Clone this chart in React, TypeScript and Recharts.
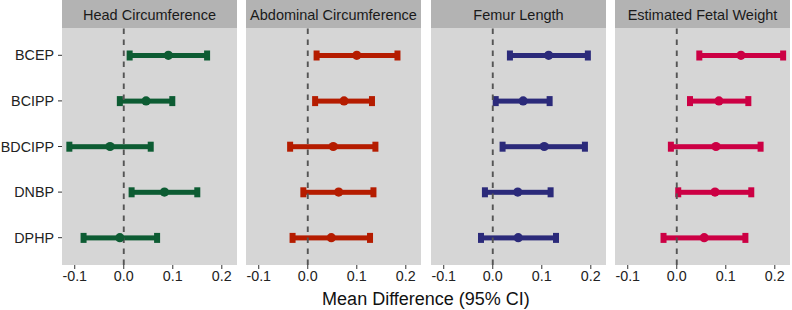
import {
  ComposedChart,
  XAxis,
  YAxis,
  CartesianGrid,
  Bar,
  Scatter,
  ReferenceLine,
} from "recharts";

const chemicals = ["BCEP", "BCIPP", "BDCIPP", "DNBP", "DPHP"];
const xTicks = [-0.1, 0, 0.1, 0.2];

const hcMean = [0.091, 0.0455, -0.028, 0.083, -0.008];
const hcLow = [0.012, -0.008, -0.111, 0.016, -0.082];
const hcHigh = [0.17, 0.099, 0.055, 0.15, 0.068];

const acMean = [0.1, 0.074, 0.052, 0.063, 0.048];
const acLow = [0.018, 0.015, -0.036, -0.009, -0.031];
const acHigh = [0.183, 0.131, 0.138, 0.134, 0.127];

const flMean = [0.114, 0.062, 0.105, 0.051, 0.052];
const flLow = [0.035, 0.006, 0.02, -0.016, -0.024];
const flHigh = [0.194, 0.116, 0.188, 0.118, 0.129];

const efwMean = [0.131, 0.086, 0.08, 0.078, 0.056];
const efwLow = [0.046, 0.027, -0.012, 0.003, -0.027];
const efwHigh = [0.217, 0.146, 0.171, 0.152, 0.14];

const FONT = "'Liberation Sans', Arial, sans-serif";

const panels = [
  { title: "Head Circumference", color: "#0d5c33", mean: hcMean, low: hcLow, high: hcHigh },
  { title: "Abdominal Circumference", color: "#b51c00", mean: acMean, low: acLow, high: acHigh },
  { title: "Femur Length", color: "#2b2a7a", mean: flMean, low: flLow, high: flHigh },
  { title: "Estimated Fetal Weight", color: "#cc0044", mean: efwMean, low: efwLow, high: efwHigh },
];

const panelLeft = [62, 246, 431, 615];
const PANEL_W = 175;

function CIShape(props: any) {
  const { x, y, width, height, fill } = props;
  const cy = y + height / 2;
  const x0 = Math.min(x, x + width);
  const x1 = Math.max(x, x + width);
  return (
    <g>
      <rect x={x0} y={cy - 2.5} width={x1 - x0} height={5} fill={fill} />
      <rect x={x0 - 3} y={cy - 5} width={6} height={10} fill={fill} />
      <rect x={x1 - 3} y={cy - 5} width={6} height={10} fill={fill} />
    </g>
  );
}

function Dot(props: any) {
  const { cx, cy, fill } = props;
  return <circle cx={cx} cy={cy} r={4.6} fill={fill} />;
}

function Panel({ idx }: { idx: number }) {
  const p = panels[idx];
  const data = chemicals.map((chem, i) => ({
    chem,
    mean: p.mean[i],
    ci: [p.low[i], p.high[i]],
  }));
  const first = idx === 0;
  const yW = first ? 62 : 0;
  return (
    <div style={{ position: "absolute", left: panelLeft[idx] - yW, top: 0 }}>
      <div
        style={{
          position: "absolute",
          left: yW,
          top: 0,
          width: PANEL_W,
          height: 28,
          background: "#b3b3b3",
          color: "#1a1a1a",
          fontSize: 14.5,
          fontFamily: FONT,
          textAlign: "center",
          lineHeight: "28px",
          paddingTop: 1,
          boxSizing: "border-box",
        }}
      >
        {p.title}
      </div>
      <ComposedChart
        width={PANEL_W + yW}
        height={310}
        data={data}
        layout="vertical"
        margin={{ top: 28, right: 0, bottom: 0, left: 0 }}
      >
        <CartesianGrid fill="#d6d6d6" stroke="none" horizontal={false} vertical={false} />
        <XAxis
          type="number"
          domain={[-0.126, 0.231]}
          allowDataOverflow
          ticks={xTicks}
          tickFormatter={(v: number) => v.toFixed(1)}
          axisLine={false}
          tickSize={4}
          tickMargin={2}
          tickLine={{ stroke: "#333333" }}
          tick={{ fill: "#222222", fontSize: 14.3, fontFamily: FONT }}
          height={45}
        />
        <YAxis
          type="category"
          dataKey="chem"
          hide={!first}
          width={yW}
          axisLine={false}
          tickSize={4}
          tickMargin={4}
          tickLine={{ stroke: "#333333" }}
          tick={{ fill: "#222222", fontSize: 14.3, fontFamily: FONT }}
          padding={{ top: 4.5, bottom: 4.5 }}
        />
        <ReferenceLine x={0} stroke="#555555" strokeWidth={1.9} strokeDasharray="5.5 5.5" />
        <Bar
          dataKey="ci"
          fill={p.color}
          barSize={10}
          shape={<CIShape />}
          isAnimationActive={false}
        />
        <Scatter
          dataKey="mean"
          fill={p.color}
          shape={<Dot />}
          isAnimationActive={false}
        />
      </ComposedChart>
    </div>
  );
}

export default function App() {
  return (
    <div
      style={{
        position: "absolute",
        left: 0,
        top: 0,
        width: 792,
        height: 310,
        background: "#ffffff",
        overflow: "hidden",
      }}
    >
      {panels.map((_p, i) => (
        <Panel key={i} idx={i} />
      ))}
      <div
        style={{
          position: "absolute",
          left: 226,
          width: 400,
          top: 290,
          textAlign: "center",
          fontFamily: FONT,
          fontSize: 18,
          lineHeight: "18px",
          color: "#111111",
        }}
      >
        Mean Difference (95% CI)
      </div>
    </div>
  );
}
